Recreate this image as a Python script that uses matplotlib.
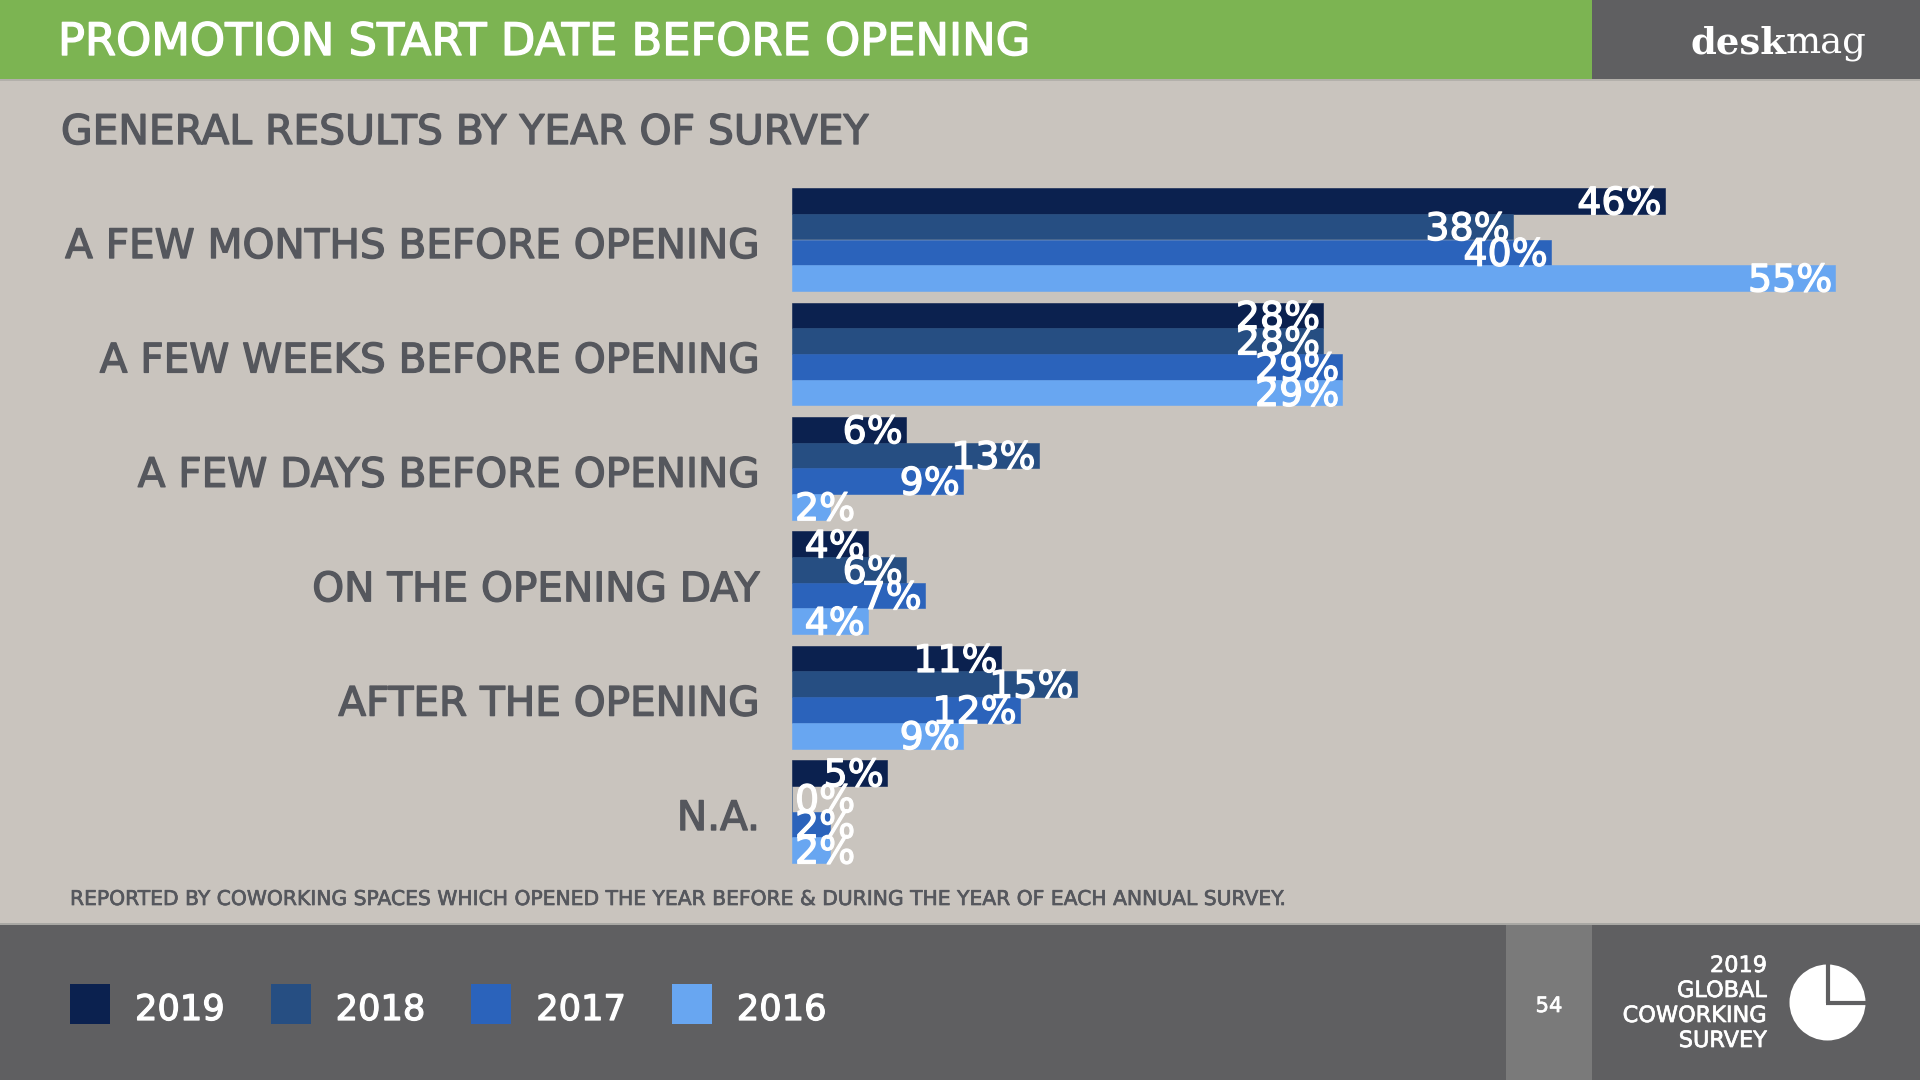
import matplotlib
matplotlib.use('Agg')
import matplotlib.pyplot as plt
from matplotlib.patches import Rectangle, Circle
import matplotlib.patheffects as pe

# data
categories = ['A FEW MONTHS BEFORE OPENING', 'A FEW WEEKS BEFORE OPENING',
              'A FEW DAYS BEFORE OPENING', 'ON THE OPENING DAY',
              'AFTER THE OPENING', 'N.A.']
years = ['2019', '2018', '2017', '2016']
share_2019 = [46, 28, 6, 4, 11, 5]
share_2018 = [38, 28, 13, 6, 15, 0]
share_2017 = [40, 29, 9, 7, 12, 2]
share_2016 = [55, 29, 2, 4, 9, 2]

FONT = 'DejaVu Sans'
GREEN = '#7CB452'
DARK = '#5F5F61'
PAGE = '#7A7A7A'
BODY = '#C9C4BE'
TEXT = '#55575D'
bar_colors = ['#0B214F', '#264E82', '#2B63BB', '#68A6F1']

fig = plt.figure(figsize=(19.2, 10.8), dpi=100)
fig.patch.set_facecolor(BODY)
renderer = fig.canvas.get_renderer()

# full-figure layer in pixel units for the slide furniture
bg = fig.add_axes([0, 0, 1, 1])
bg.set_xlim(0, 1920)
bg.set_ylim(1080, 0)
bg.axis('off')
bg.add_patch(Rectangle((0, 0), 1592, 79, color=GREEN, lw=0))
bg.add_patch(Rectangle((1592, 0), 328, 79, color=DARK, lw=0))
bg.add_patch(Rectangle((0, 79), 1920, 2, color='#B3B0AB', lw=0))
bg.add_patch(Rectangle((0, 925), 1920, 155, color=DARK, lw=0))
bg.add_patch(Rectangle((0, 923), 1920, 2, color='#A9A8A4', lw=0))
bg.add_patch(Rectangle((1506, 925), 86, 155, color=PAGE, lw=0))


def fit(t, width):
    w = t.get_window_extent(renderer).width
    t.set_fontsize(t.get_fontsize() * width / w)
    return t


def heavy(t, lw=0.8):
    # fake a medium weight, DejaVu only has regular and bold
    t.set_path_effects([pe.withStroke(linewidth=lw, foreground=t.get_color())])
    return t


heavy(fit(bg.text(58, 55, 'PROMOTION START DATE BEFORE OPENING', color='white',
                  fontsize=30, va='baseline', family=FONT), 973), 1.0)
heavy(fit(bg.text(61, 144, 'GENERAL RESULTS BY YEAR OF SURVEY', color=TEXT,
                  fontsize=30, va='baseline', family=FONT), 808), 1.0)
heavy(fit(bg.text(70, 905, 'REPORTED BY COWORKING SPACES WHICH OPENED THE YEAR BEFORE '
                  '& DURING THE YEAR OF EACH ANNUAL SURVEY.', color=TEXT,
                  fontsize=14, va='baseline', family=FONT), 1217), 0.5)

# logo
desk = bg.text(1690, 53, 'desk', color='white', fontsize=30, va='baseline',
               family='DejaVu Serif', fontweight='bold')
mag = bg.text(1690, 53, 'mag', color='white', fontsize=30, va='baseline',
              family='DejaVu Serif')
total = desk.get_window_extent(renderer).width + mag.get_window_extent(renderer).width
for t in (desk, mag):
    t.set_fontsize(t.get_fontsize() * 177 / total)
mag.set_x(1690 + desk.get_window_extent(renderer).width)

# category labels
cat_size = None
for i, cat in enumerate(categories):
    t = bg.text(760, 258 + i * 114.4, cat, color=TEXT, fontsize=30,
                ha='right', va='baseline', family=FONT)
    if cat_size is None:
        cat_size = fit(t, 695).get_fontsize()
    t.set_fontsize(cat_size)
    heavy(t, 1.0)

# bar chart
px_per_unit = 18.97
ax = fig.add_axes([792 / 1920, (1080 - 880) / 1080, (1900 - 792) / 1920, (880 - 170) / 1080])
ax.patch.set_alpha(0)
ax.axis('off')
ax.set_xlim(0, (1900 - 792) / px_per_unit)
ax.set_ylim((880 - 239.5) / 114.4, (170 - 239.5) / 114.4)

series = [share_2019, share_2018, share_2017, share_2016]
h = 25.7 / 114.4
pad = 3 / px_per_unit
probe = fit(ax.text(0, 0, '55%', fontsize=28, family=FONT), 84)
label_size = probe.get_fontsize()
probe.remove()

for k, (vals, col) in enumerate(zip(series, bar_colors)):
    ypos = [i + (k - 1.5) * h for i in range(len(categories))]
    ax.barh(ypos, vals, height=h, color=col, edgecolor=col, lw=0.4)
    for y, v in zip(ypos, vals):
        t = ax.text(v - pad, y + 0.03, f'{v}%', color='white', fontsize=label_size,
                    ha='right', va='center', family=FONT, zorder=5)
        tw = t.get_window_extent(renderer).width / px_per_unit
        if tw + pad > v:
            t.set_x(pad)
            t.set_ha('left')
        heavy(t, 0.9)

# legend in the footer
leg_size = None
for i, (yr, col) in enumerate(zip(years, bar_colors)):
    x0 = 70 + i * 200.6
    bg.add_patch(Rectangle((x0, 984), 40, 40, color=col, lw=0))
    t = bg.text(x0 + 65, 1020, yr, color='white', fontsize=28, va='baseline', family=FONT)
    if leg_size is None:
        leg_size = fit(t, 90).get_fontsize()
    t.set_fontsize(leg_size)
    heavy(t, 0.9)

heavy(fit(bg.text(1549, 1012, '54', color='white', fontsize=14, ha='center',
                  va='baseline', family=FONT), 27), 0.5)

survey_lines = ['2019', 'GLOBAL', 'COWORKING', 'SURVEY']
sv = [bg.text(1767, 972 + j * 25, s, color='white', fontsize=14, ha='right',
              va='baseline', family=FONT) for j, s in enumerate(survey_lines)]
sz = fit(sv[2], 144).get_fontsize()
for t in sv:
    t.set_fontsize(sz)
    heavy(t, 0.5)

# pie icon
bg.add_patch(Circle((1827.5, 1002.5), 38, color='white', lw=0))
bg.plot([1827.5, 1827.5], [960, 1002.5], color=DARK, lw=3, solid_capstyle='butt')
bg.plot([1825.5, 1870], [1002.5, 1002.5], color=DARK, lw=3, solid_capstyle='butt')

fig.savefig('out.png', dpi=100, facecolor=BODY)
